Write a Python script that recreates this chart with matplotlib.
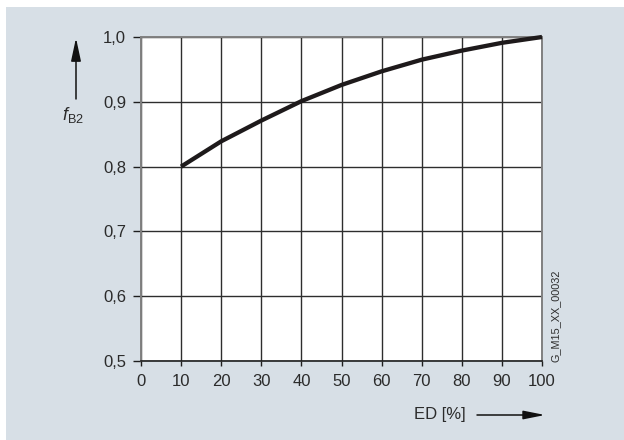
import matplotlib
matplotlib.use("Agg")
import matplotlib.pyplot as plt
from matplotlib.patches import Rectangle, FancyArrowPatch

# duty cycle ED [%] and derating factor f_B2
ed = [10, 20, 30, 40, 50, 60, 70, 80, 90, 100]
f_b2 = [0.800, 0.839, 0.871, 0.901, 0.926, 0.947, 0.965, 0.979, 0.991, 1.000]

x_ticks = [0, 10, 20, 30, 40, 50, 60, 70, 80, 90, 100]
y_ticks = [0.5, 0.6, 0.7, 0.8, 0.9, 1.0]
y_labels = ['0,5', '0,6', '0,7', '0,8', '0,9', '1,0']

plt.rcParams['font.family'] = ['Liberation Sans', 'DejaVu Sans']
plt.rcParams['mathtext.fontset'] = 'custom'
plt.rcParams['mathtext.rm'] = 'Liberation Sans'
plt.rcParams['mathtext.it'] = 'Liberation Sans:italic'

text_col = '#2b2b2b'
panel_col = '#d7dfe6'

fig = plt.figure(figsize=(6.24, 4.40), dpi=100)
fig.patch.set_facecolor('white')

# light grey-blue panel behind the chart
fig.add_artist(Rectangle((6 / 624, 0), 1 - 6 / 624, (440 - 7) / 440,
                         transform=fig.transFigure, facecolor=panel_col,
                         edgecolor='none', zorder=0))

ax = fig.add_axes([141 / 624, 1 - 361 / 440, 401 / 624, 324 / 440])
ax.set_facecolor('white')

ax.plot(ed, f_b2, color='#1e1a1b', lw=3.1, solid_capstyle='butt',
        solid_joinstyle='round', clip_on=False, zorder=4)

ax.set_xlim(0, 100)
ax.set_ylim(0.5, 1.0)
ax.set_xticks(x_ticks)
ax.set_xticklabels([str(v) for v in x_ticks])
ax.set_yticks(y_ticks)
ax.set_yticklabels(y_labels)

ax.grid(True, color='#2e2e2e', lw=1.0)
ax.set_axisbelow(True)

for side in ['left', 'top', 'right']:
    ax.spines[side].set_color('#808080')
    ax.spines[side].set_linewidth(1.4)
ax.spines['bottom'].set_color('#1e1e1e')
ax.spines['bottom'].set_linewidth(1.2)

ax.tick_params(axis='y', direction='out', length=5.8, width=1.0, color='#1e1e1e',
               pad=5, labelsize=12, labelcolor=text_col)
ax.tick_params(axis='x', direction='out', length=3.5, width=1.0, color='#1e1e1e',
               pad=6, labelsize=12, labelcolor=text_col)

# axis names with their arrows
fig.text(73 / 624, 1 - 115 / 440, r'$f_{\mathrm{B2}}$', ha='center', va='center',
         fontsize=13, color=text_col)
fig.add_artist(FancyArrowPatch((76 / 624, 1 - 99 / 440), (76 / 624, 1 - 38 / 440),
                               transform=fig.transFigure,
                               arrowstyle='-|>,head_length=14,head_width=3',
                               mutation_scale=1, color='#111111', lw=1.1,
                               shrinkA=0, shrinkB=0))

fig.text(440 / 624, 1 - 414 / 440, 'ED [%]', ha='center', va='center',
         fontsize=12, color=text_col)
fig.add_artist(FancyArrowPatch((477 / 624, 1 - 415 / 440), (545 / 624, 1 - 415 / 440),
                               transform=fig.transFigure,
                               arrowstyle='-|>,head_length=13,head_width=2.6',
                               mutation_scale=1, color='#111111', lw=1.1,
                               shrinkA=0, shrinkB=0))

fig.text(556 / 624, 1 - 362 / 440, 'G_M15_XX_00032', rotation=90,
         ha='center', va='bottom', fontsize=7.8, color=text_col)

fig.savefig('out.png', dpi=100)
